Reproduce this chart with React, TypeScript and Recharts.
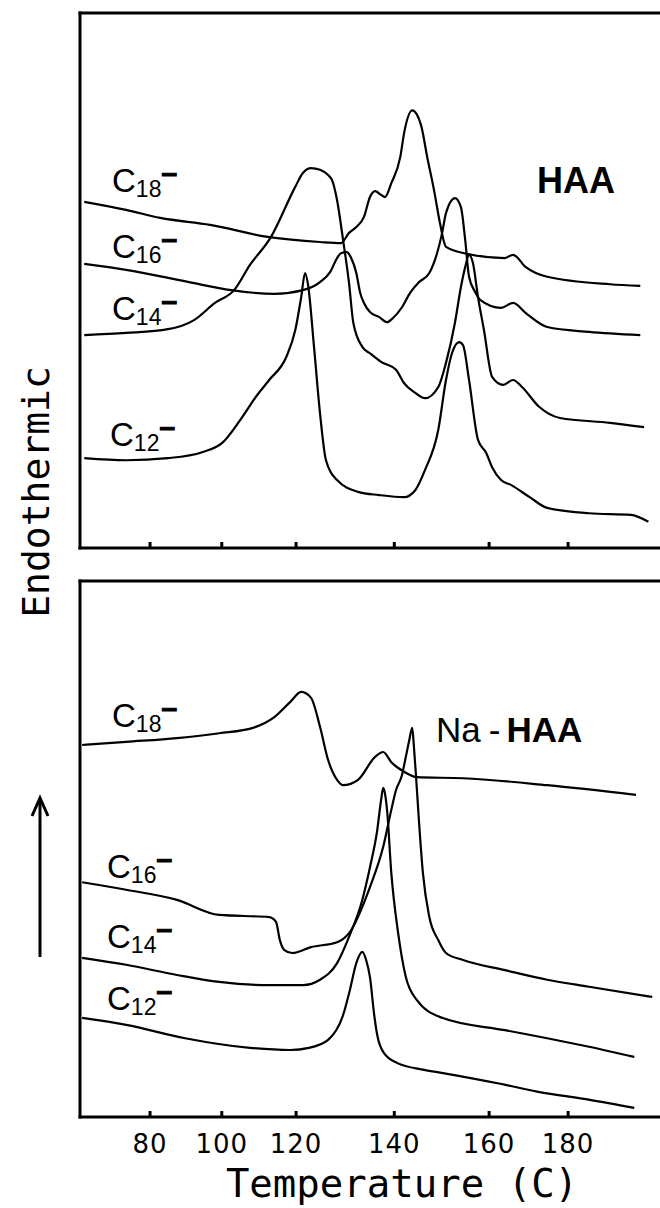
import React from "react";
import { LineChart, Line, XAxis, YAxis } from "recharts";

type Pt = [number, number];

// Axis: positions (chart temperature units) where the printed tick labels sit
const TICK_POS = [82.4, 99.2, 116.6, 139.6, 161.8, 180.3];
const TICK_LABELS = ["80", "100", "120", "140", "160", "180"];
const X_DOMAIN: [number, number] = [66, 206.5];
const Y_DOMAIN: [number, number] = [0, 100];

// ---- HAA panel (temperature, signal) ----
const HAA_C18: Pt[] = [
  [67.0, 64.7], [76.8, 63.2], [84.8, 61.7], [96.5, 60.4], [110.3, 58.1], [122.2, 57.2],
  [127.1, 57.0], [129.0, 58.9], [130.7, 60.0], [132.5, 61.9], [133.9, 65.6], [135.1, 66.7],
  [136.5, 66.0], [137.4, 65.6], [138.9, 68.2], [141.0, 73.1], [141.9, 77.6], [143.8, 81.8],
  [145.9, 78.9], [147.3, 73.1], [148.9, 66.9], [150.3, 60.7], [151.7, 56.3], [156.6, 55.0],
  [165.5, 54.2], [167.4, 54.8], [170.4, 52.5], [175.4, 50.7], [190.1, 49.3], [197.2, 49.0],
];
const HAA_C16: Pt[] = [
  [67.0, 53.1], [76.8, 52.0], [91.5, 49.7], [101.4, 48.2], [111.5, 47.5], [118.2, 48.2],
  [122.2, 49.7], [124.6, 51.6], [126.2, 54.2], [127.1, 55.1], [128.5, 55.3], [129.5, 54.2],
  [130.7, 51.4], [131.6, 47.7], [132.5, 45.8], [133.9, 44.1], [136.0, 43.2], [137.9, 42.2],
  [139.3, 43.0], [141.4, 45.0], [143.3, 47.7], [145.4, 49.7], [147.8, 51.4], [150.8, 58.9],
  [151.7, 62.6], [153.8, 65.4], [155.2, 63.7], [156.2, 57.6], [157.1, 50.7], [158.5, 47.9],
  [159.7, 46.4], [164.6, 44.9], [167.4, 45.8], [170.4, 43.9], [175.4, 41.3], [185.2, 40.4],
  [197.2, 39.8],
];
const HAA_C14: Pt[] = [
  [67.0, 39.8], [76.8, 40.2], [86.6, 40.9], [92.7, 42.6], [97.6, 45.8], [102.1, 48.2],
  [105.8, 52.9], [110.7, 58.1], [116.4, 67.5], [118.2, 70.1], [120.1, 71.0], [122.2, 70.7],
  [124.1, 69.7], [125.0, 68.8], [126.2, 65.0], [127.6, 57.6], [129.0, 49.5], [130.0, 42.1],
  [132.1, 37.6], [133.9, 36.4], [136.5, 34.8], [140.0, 33.3], [141.9, 30.8], [144.5, 29.0],
  [146.8, 28.0], [149.9, 30.1], [151.7, 34.6], [153.8, 42.1], [155.2, 48.8], [156.2, 52.5],
  [157.1, 54.8], [158.0, 53.3], [159.2, 46.9], [160.6, 40.7], [162.5, 32.0], [165.1, 30.5],
  [167.4, 31.4], [169.5, 30.1], [173.5, 26.4], [178.4, 24.3], [190.1, 23.4], [198.1, 22.6],
];
const HAA_C12: Pt[] = [
  [67.0, 16.8], [76.8, 16.4], [86.6, 16.8], [94.6, 17.9], [99.5, 19.8], [103.5, 23.9],
  [107.5, 28.6], [110.3, 31.4], [114.3, 35.7], [116.4, 40.7], [117.8, 46.9], [118.7, 51.4],
  [119.4, 49.2], [120.8, 37.6], [122.2, 25.2], [123.6, 16.4], [126.2, 12.7], [131.1, 10.5],
  [136.0, 9.9], [141.9, 9.5], [144.5, 10.8], [146.8, 14.6], [149.9, 22.1], [151.7, 31.4],
  [153.1, 36.4], [154.8, 38.5], [155.7, 37.9], [157.1, 31.4], [159.2, 20.2], [161.1, 17.8],
  [162.5, 15.1], [164.6, 12.7], [166.9, 11.8], [171.3, 9.5], [175.4, 7.5], [185.2, 6.5],
  [195.0, 6.2], [199.1, 4.9],
];

// ---- Na-HAA panel ----
const NA_C18: Pt[] = [
  [66.5, 69.4], [76.8, 70.0], [88.7, 70.7], [98.6, 71.6], [106.5, 72.6], [111.5, 74.6],
  [115.2, 77.4], [117.8, 79.3], [120.1, 78.2], [122.2, 72.8], [124.1, 66.6], [126.2, 62.9],
  [127.6, 61.9], [131.1, 62.9], [135.1, 67.2], [137.0, 68.1], [138.9, 66.2], [141.9, 64.4],
  [144.9, 63.4], [155.7, 63.2], [175.4, 61.9], [196.2, 60.1],
];
const NA_C16: Pt[] = [
  [66.5, 43.8], [76.8, 42.4], [88.7, 40.5], [98.6, 37.7], [110.3, 37.3], [111.9, 36.4],
  [112.8, 33.0], [113.8, 31.2], [115.7, 30.6], [120.1, 31.7], [126.2, 32.6], [129.0, 34.3],
  [133.9, 42.9], [137.0, 50.4], [138.9, 57.3], [140.0, 61.0], [141.4, 63.8], [142.3, 67.2],
  [143.1, 70.3], [143.8, 72.6], [144.2, 69.0], [144.7, 63.4], [145.4, 54.9], [146.3, 45.5],
  [147.8, 37.3], [149.9, 33.0], [151.7, 30.6], [155.7, 29.3], [165.5, 27.4], [175.4, 25.6],
  [185.2, 24.3], [200.0, 22.4],
];
const NA_C14: Pt[] = [
  [66.5, 29.7], [76.8, 28.4], [88.7, 26.5], [98.6, 25.2], [110.3, 24.6], [118.2, 24.6],
  [122.2, 25.6], [126.2, 28.7], [129.0, 33.6], [132.1, 40.5], [133.9, 46.6], [135.6, 53.5],
  [136.5, 59.1], [137.0, 61.4], [137.4, 60.4], [137.9, 57.3], [138.9, 45.5], [140.5, 34.3],
  [142.3, 26.1], [144.9, 21.8], [150.8, 18.5], [165.5, 16.2], [175.4, 14.7], [185.2, 13.1],
  [195.8, 11.2],
];
const NA_C12: Pt[] = [
  [66.5, 18.5], [76.8, 17.2], [90.6, 14.7], [105.8, 12.9], [115.2, 12.5], [119.6, 12.9],
  [124.1, 14.4], [127.6, 19.0], [129.2, 23.7], [130.7, 28.7], [132.1, 30.8], [133.0, 29.3],
  [133.9, 26.1], [134.9, 19.0], [135.6, 15.3], [137.2, 11.9], [140.2, 10.1], [146.6, 8.8],
  [151.0, 8.2], [164.4, 6.2], [173.3, 4.7], [185.4, 3.2], [195.8, 1.7],
];

const HAA_SERIES = [HAA_C18, HAA_C16, HAA_C14, HAA_C12];
const NA_SERIES = [NA_C18, NA_C16, NA_C14, NA_C12];

const toRows = (pts: Pt[]) => pts.map(([t, v]) => ({ t, v }));

const FRAME = { stroke: "#000", strokeWidth: 3, strokeLinecap: "square" as const };
const MONO = "'DejaVu Sans Mono', monospace";
const SANS = "'Liberation Sans', Arial, sans-serif";

const makeTick = (withLabel: boolean) => (props: any) => {
  const { x, y, payload } = props;
  const i = TICK_POS.indexOf(payload.value);
  return (
    <g>
      <line x1={x} y1={y} x2={x} y2={y - 6} stroke="#000" strokeWidth={3} />
      {withLabel && (
        <text
          x={x}
          y={y + 36}
          textAnchor="middle"
          fontFamily="'DejaVu Sans', sans-serif"
          fontSize={26}
          letterSpacing={1}
          fill="#000"
        >
          {TICK_LABELS[i]}
        </text>
      )}
    </g>
  );
};

const Panel = ({ series, withLabels, height, margin }: any) => (
  <LineChart width={700} height={height} margin={margin}>
    <XAxis
      type="number"
      dataKey="t"
      domain={X_DOMAIN}
      allowDataOverflow
      ticks={TICK_POS}
      interval={0}
      height={1}
      tickSize={0}
      tickMargin={0}
      tickLine={false}
      axisLine={FRAME}
      tick={makeTick(withLabels)}
    />
    <XAxis
      xAxisId="top"
      orientation="top"
      type="number"
      domain={X_DOMAIN}
      height={1}
      tick={false}
      tickLine={false}
      axisLine={FRAME}
    />
    <YAxis type="number" domain={Y_DOMAIN} width={1} tick={false} tickLine={false} axisLine={FRAME} />
    {series.map((s: Pt[], k: number) => (
      <Line
        key={k}
        data={toRows(s)}
        dataKey="v"
        type="monotone"
        stroke="#000"
        strokeWidth={2.2}
        dot={false}
        activeDot={false}
        isAnimationActive={false}
      />
    ))}
  </LineChart>
);

const CurveLabel = ({ x, y, n }: { x: number; y: number; n: string }) => (
  <text x={x} y={y} fontFamily={SANS} fontSize={33} fill="#000">
    C
    <tspan fontSize={23} dy={5}>
      {n}
    </tspan>
    <tspan fontSize={28} fontWeight="bold" dy={-15} stroke="#000" strokeWidth={1.2}>
      –
    </tspan>
  </text>
);

export default function App() {
  return (
    <div
      style={{
        position: "absolute",
        left: 0,
        top: 0,
        width: 660,
        height: 1208,
        overflow: "hidden",
        background: "#fff",
      }}
    >
      <div style={{ position: "absolute", left: 0, top: 0 }}>
        <Panel
          series={HAA_SERIES}
          withLabels={false}
          height={560}
          margin={{ top: 12, right: 20, bottom: 11, left: 79 }}
        />
      </div>
      <div style={{ position: "absolute", left: 0, top: 570 }}>
        <Panel
          series={NA_SERIES}
          withLabels={true}
          height={638}
          margin={{ top: 10, right: 20, bottom: 90, left: 79 }}
        />
      </div>
      <svg
        width={660}
        height={1208}
        style={{ position: "absolute", left: 0, top: 0, pointerEvents: "none" }}
      >
        <CurveLabel x={112} y={192} n="18" />
        <CurveLabel x={112} y={258} n="16" />
        <CurveLabel x={112} y={320} n="14" />
        <CurveLabel x={110} y={446} n="12" />
        <text x={537} y={193} fontFamily={SANS} fontSize={36} fontWeight="bold" fill="#000">
          HAA
        </text>

        <CurveLabel x={112} y={727} n="18" />
        <CurveLabel x={107} y={878} n="16" />
        <CurveLabel x={107} y={948} n="14" />
        <CurveLabel x={107} y={1010} n="12" />
        <text x={436} y={742} fontFamily={SANS} fontSize={35} fill="#000">
          Na
          <tspan dx={8}>-</tspan>
          <tspan dx={6} fontWeight="bold">
            HAA
          </tspan>
        </text>

        <text
          transform="translate(49, 492) rotate(-90)"
          textAnchor="middle"
          fontFamily={MONO}
          fontSize={38}
          fill="#000"
        >
          Endothermic
        </text>
        <line x1={40} y1={957} x2={40} y2={800} stroke="#000" strokeWidth={3} />
        <path d="M32,816 L40,798 L48,816" fill="none" stroke="#000" strokeWidth={3} />

        <text x={402} y={1197} textAnchor="middle" fontFamily={MONO} fontSize={39} fill="#000">
          Temperature (C)
        </text>
      </svg>
    </div>
  );
}
